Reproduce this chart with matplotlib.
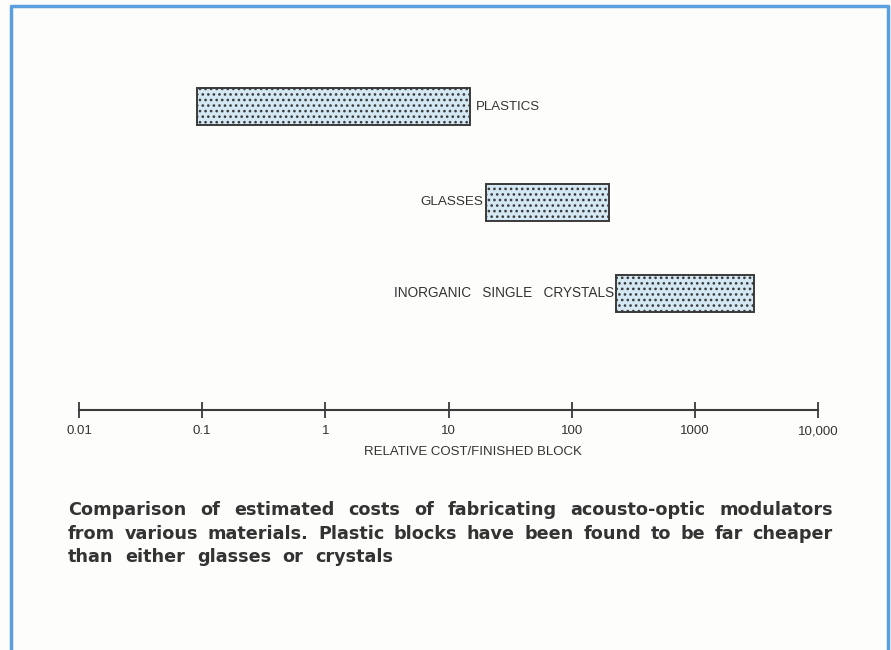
import matplotlib.pyplot as plt
import numpy as np

# materials and their relative cost range (low, high)
materials = ['PLASTICS', 'GLASSES', 'INORGANIC   SINGLE   CRYSTALS']
cost_low = [0.09, 20, 230]
cost_high = [15, 200, 3000]
tick_vals = [0.01, 0.1, 1, 10, 100, 1000, 10000]
tick_labels = ['0.01', '0.1', '1', '10', '100', '1000', '10,000']

caption_lines = ["Comparison of estimated costs of fabricating acousto-optic modulators",
                 "from various materials. Plastic blocks have been found to be far cheaper",
                 "than either glasses or crystals"]

W, H = 891, 650
fig = plt.figure(figsize=(W / 100, H / 100), dpi=100)
fig.patch.set_facecolor('#fdfdfb')

# axes placed in pixel terms: axis line at y=410, from x=79 to x=818
ax = fig.add_axes([79 / W, 1 - 410 / H, (818 - 79) / W, 350 / H])
ax.set_facecolor('none')
ax.set_xscale('log')
ax.set_xlim(0.01, 10000)
ax.set_ylim(0, 1)

ypos = [0.866, 0.594, 0.334]
bh = 0.106
txt = '#333333'
lab_fs = [9.5, 9.7, 9.8]

plt.rcParams['hatch.linewidth'] = 1.1
for i in range(len(materials)):
    ax.barh(ypos[i], cost_high[i] - cost_low[i], left=cost_low[i], height=bh,
            color='#d3e8f3', edgecolor='#3a3a3a', linewidth=1.4, hatch='...')
    if i == 0:
        ax.text(cost_high[i] * 1.12, ypos[i], materials[i], va='center', ha='left',
                fontsize=lab_fs[i], color=txt, family='Liberation Sans')
    else:
        ax.text(cost_low[i] * 0.96, ypos[i], materials[i], va='center', ha='right',
                fontsize=lab_fs[i], color=txt, family='Liberation Sans')

for s in ['top', 'right', 'left']:
    ax.spines[s].set_visible(False)
ax.spines['bottom'].set_color('#3a3a3a')
ax.spines['bottom'].set_linewidth(1.5)
ax.set_yticks([])
ax.set_xticks(tick_vals)
ax.set_xticklabels(tick_labels, fontsize=9.5, color=txt, family='Liberation Sans')
ax.minorticks_off()
ax.tick_params(axis='x', direction='inout', length=12, width=1.3, color='#3a3a3a', pad=5)

fig.text(473 / W, 1 - 452 / H, 'RELATIVE COST/FINISHED BLOCK', ha='center', va='center',
         fontsize=9.5, color=txt, family='Liberation Sans')

# caption, first two lines justified between x=68 and x=833
fig.canvas.draw()
r = fig.canvas.get_renderer()
x0, x1 = 68, 833
line_y = [510, 534, 557]
cap_kw = dict(fontsize=12.7, color='#333333', family='DejaVu Sans', fontweight='bold',
              va='center', ha='left')
gaps = []
for k, line in enumerate(caption_lines):
    words = line.split()
    widths = []
    for w in words:
        t = fig.text(0, 0, w, **cap_kw)
        widths.append(t.get_window_extent(r).width)
        t.remove()
    if k < 2:
        gap = (x1 - x0 - sum(widths)) / (len(words) - 1)
        gaps.append(gap)
    else:
        gap = sum(gaps) / len(gaps)
    x = x0
    for w, wd in zip(words, widths):
        fig.text(x / W, 1 - line_y[k] / H, w, **cap_kw)
        x += wd + gap

# blue frame, open at the bottom
frame = '#5b9fdf'
fig.add_artist(plt.Line2D([11 / W, 11 / W, 888 / W, 888 / W], [0, 1 - 6 / H, 1 - 6 / H, 0],
                          transform=fig.transFigure, color=frame, linewidth=2.5))

fig.savefig('out.png', dpi=100)
